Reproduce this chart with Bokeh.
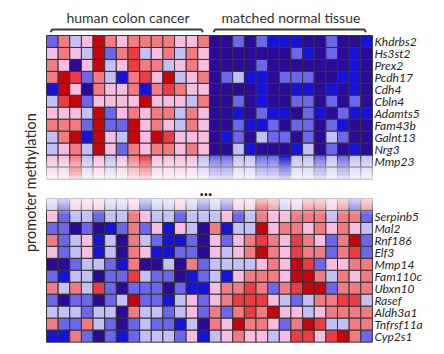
import numpy as np
from bokeh.plotting import figure
from bokeh.models import ColumnDataSource, LinearColorMapper
from bokeh.core.properties import value
from bokeh.embed import file_html
from bokeh.resources import INLINE

# ---------------- data ----------------
groups = ["human colon cancer", "matched normal tissue"]
genes_top = ["Khdrbs2", "Hs3st2", "Prex2", "Pcdh17", "Cdh4", "Cbln4",
             "Adamts5", "Fam43b", "Galnt13", "Nrg3", "Mmp23"]
genes_bottom = ["Serpinb5", "Mal2", "Rnf186", "Elf3", "Mmp14", "Fam110c",
                "Ubxn10", "Rasef", "Aldh3a1", "Tnfrsf11a", "Cyp2s1"]

# methylation level: -4 (lowest, navy) ... 4 (highest, dark red)
top_cancer = [
    [-2, 2, -1, 1, 4, 2, 1, 2, 2, 2, 2, 1, 1, 2],
    [1, 2, 1, -1, 4, -2, 2, 3, -1, 1, 2, -1, 2, 1],
    [2, 1, -4, 1, 4, -1, 1, 3, 2, 2, -1, 1, 2, 1],
    [2, 4, 3, -2, 2, -1, -3, 2, 3, 1, 4, -1, 1, 2],
    [-3, 4, 1, -4, 2, 1, 1, 2, -3, 2, 3, 2, 1, 1],
    [-1, 3, 4, -2, 1, 1, 1, 1, 4, 1, 1, 1, -1, 2],
    [1, 1, 1, -1, 4, -2, 1, 2, 1, 2, 2, -1, 2, 1],
    [2, 2, 2, -2, 4, -2, -2, 4, 1, 2, 1, -1, 2, 1],
    [-1, 2, 4, -3, 4, 1, -1, 4, 1, 4, 3, 1, 1, 1],
    [-1, 1, 2, -1, 4, 1, -2, 2, 1, 2, 2, 1, 2, 1],
    [1, 1, 2, -1, 1, -1, 1, 2, 3, 1, 1, 1, 1, -1],
]
top_normal = [
    [-4, -4, -2, -4, -2, -3, -3, -3, -4, -4, -2, -4, -4, -3],
    [-4, -4, -4, -4, -4, -4, -4, -2, -3, -4, -2, -4, -3, -4],
    [-4, -4, -4, -4, -2, -4, -4, -4, -4, -4, -4, -4, -3, -4],
    [-4, -2, -1, -3, -3, -4, -2, -2, -2, -4, -4, -3, -3, -4],
    [-4, -4, -4, -4, -3, -4, -4, -3, -3, -4, -3, -4, -3, -4],
    [-4, -4, -2, -4, -3, -4, -4, -2, -2, -4, -2, -4, -2, -4],
    [-4, -4, -3, -4, -2, -3, -3, -4, -2, -3, -4, -2, -3, -3],
    [-4, -4, -2, -3, -3, -2, -4, -2, -2, -4, -2, -3, -4, -4],
    [-4, -3, -2, -4, -1, -2, -2, -4, -2, -4, -1, -2, -4, -4],
    [-4, -4, -1, -3, -4, -4, -4, -3, -1, -4, -2, -4, -3, -4],
    [-2, -2, -1, -1, -2, -2, -3, -1, -1, -2, -1, -2, -1, -1],
]
# partially shown rows next to the break
top_cut_cancer = [1, 1, 3, -1, 1, -1, 1, 2, 3, 1, 1, 1, 1, -1]
top_cut_normal = [-2, -2, -1, -1, -2, -2, -3, -1, -1, -2, -1, -2, -1, -1]
bottom_cut_cancer = [-1, -2, 1, 1, 1, -1, -1, 1, -2, -1, -1, 1, -1, -2]
bottom_cut_normal = [-1, -2, 1, 1, 3, 2, -1, 1, 2, 2, 1, 2, -2, 2]

bottom_cancer = [
    [1, -2, -1, -1, -2, -1, -1, 2, 1, -1, -1, -2, -1, -1],
    [-2, -2, -4, -2, -4, -3, -2, 2, -2, 1, -3, 1, -1, -4],
    [2, -2, -1, 1, -3, -1, -4, 2, -1, -2, -3, -3, -2, -4],
    [1, -2, -1, 1, -3, -1, -4, 2, 1, -3, -3, -2, -2, -4],
    [-4, -4, -2, -1, -1, -2, -3, 2, -4, -4, -1, -4, 2, -2],
    [-2, -3, -1, -1, -4, -2, -2, 3, -1, -2, -2, -4, -3, -2],
    [2, -1, 2, -1, 3, -2, -4, -2, -2, -2, -4, -2, -3, -3],
    [-2, -4, -2, -2, -4, -2, -1, 4, -2, -2, -3, -1, 1, -2],
    [-1, -1, -1, -2, -1, -1, -4, 2, -1, -1, -2, -1, 1, -2],
    [2, -2, -2, 2, -1, -2, -4, -2, -1, -2, -2, -3, -1, -4],
    [-3, -3, 2, -2, -4, -2, -3, -2, -1, -1, -1, -2, 1, -3],
]
bottom_normal = [
    [-1, 1, -2, -1, 2, 1, 1, 2, 2, 2, -1, 2, 2, -2],
    [2, -3, -1, -1, 4, 1, 2, 2, 1, 2, 1, 2, 1, -1],
    [1, -2, 1, 2, 3, 2, 1, 3, 2, 1, -2, 2, 4, -2],
    [1, -1, 1, 2, 4, 2, 1, 3, 2, 2, -2, 2, 3, -2],
    [-1, -1, -1, -1, 1, 2, 1, 4, 3, -2, 1, 1, 2, 2],
    [-1, -3, 1, 2, 2, 2, 1, 4, 4, 2, -1, 2, 1, 2],
    [1, 2, 2, 3, 2, -2, 2, 3, 4, 4, -2, 2, 2, 2],
    [1, 2, 3, 3, 3, 1, -1, -2, -1, 2, 2, 3, 3, -1],
    [2, -2, 2, 3, 2, 4, 1, 1, -1, 1, 2, 2, 2, 2],
    [2, 1, 4, 2, 2, 1, -2, 2, 4, 3, -1, -1, 2, 2],
    [-1, 1, 2, 1, 1, -1, 1, 3, 3, 1, 3, 4, 2, -2],
]

palette = ["#2c0a98", "#1512dc", "#6b66ec", "#c2c0f4", "#f4eef6",
           "#f7bde0", "#f27b82", "#ec3b42", "#c6040c"]

# ---------------- layout ----------------
W, H = 444, 354
COL_PX, ROW_PX = 11.64, 11.97
GRID_LEFT_PX, GRID_TOP_PX = 46, 35
n_per_group = len(top_cancer[0])
ncols = 2 * n_per_group

x0 = -0.5 - GRID_LEFT_PX / COL_PX
y1 = 0.5 + GRID_TOP_PX / ROW_PX
x_rng = (x0, x0 + W / COL_PX)
y_rng = (y1 - H / ROW_PX, y1)

def py(pix):  # screen pixel row -> data y
    return y1 - pix / ROW_PX

def px(pix):
    return x0 + pix / COL_PX

BOTTOM_CUT_Y = -13.62   # centre of the partly shown row above the lower block

xs, ys, vs = [], [], []
top_rows = [c + n for c, n in zip(top_cancer, top_normal)] + [top_cut_cancer + top_cut_normal]
for i, row in enumerate(top_rows):
    for j, v in enumerate(row):
        xs.append(j); ys.append(-i); vs.append(v)
bot_rows = [bottom_cut_cancer + bottom_cut_normal] + [c + n for c, n in zip(bottom_cancer, bottom_normal)]
for i, row in enumerate(bot_rows):
    for j, v in enumerate(row):
        xs.append(j); ys.append(BOTTOM_CUT_Y - i); vs.append(v)

src = ColumnDataSource(dict(x=xs, y=ys, v=vs))
mapper = LinearColorMapper(palette=palette, low=-4.5, high=4.5)

p = figure(width=W, height=H, x_range=x_rng, y_range=y_rng,
           x_axis_type=None, y_axis_type=None, min_border=0,
           output_backend="svg", toolbar_location=None)
p.outline_line_color = None
p.background_fill_color = "white"
p.border_fill_color = "white"

p.rect("x", "y", width=1, height=1, source=src,
       fill_color={"field": "v", "transform": mapper},
       line_color="#343434", line_width=1)

# fade-out of the heat map at the break
n_strips = 40
fl, fr, ft, fb, fa = [], [], [], [], []
top_a, top_b = -9.55, -11.35
edges = np.linspace(-9.5, -11.55, n_strips + 1)
for k in range(n_strips):
    mid = 0.5 * (edges[k] + edges[k + 1])
    a = float(np.clip((top_a - mid) / (top_a - top_b), 0, 1))
    fl.append(-0.7); fr.append(ncols - 0.3); ft.append(edges[k]); fb.append(edges[k + 1]); fa.append(a)
bot_a, bot_b = -13.1, -14.5
edges = np.linspace(BOTTOM_CUT_Y + 0.55, -14.6, n_strips + 1)
for k in range(n_strips):
    mid = 0.5 * (edges[k] + edges[k + 1])
    a = float(np.clip((mid - bot_b) / (bot_a - bot_b), 0, 1))
    fl.append(-0.7); fr.append(ncols - 0.3); ft.append(edges[k]); fb.append(edges[k + 1]); fa.append(a)
p.quad(left=fl, right=fr, top=ft, bottom=fb, fill_color="white",
       fill_alpha=fa, line_color=None)

# gene labels
lab_x = ncols - 0.5 + 0.17
p.text(x=[lab_x] * len(genes_top), y=[-i for i in range(len(genes_top))],
       text=genes_top, text_font=value("Lato"), text_font_style="italic",
       text_font_size="12px", text_color="#262626",
       text_align="left", text_baseline="middle")
p.text(x=[lab_x] * len(genes_bottom),
       y=[BOTTOM_CUT_Y - 1 - i for i in range(len(genes_bottom))],
       text=genes_bottom, text_font=value("Lato"), text_font_style="italic",
       text_font_size="12px", text_color="#262626",
       text_align="left", text_baseline="middle")

# group titles and brackets
title_y = py(17)
line_y = py(29)
gx = [(g * n_per_group + (g + 1) * n_per_group - 1) / 2 for g in range(2)]
p.text(x=gx, y=[title_y] * 2, text=groups, text_font=value("Lato"),
       text_font_size="14px", text_color="#333333",
       text_align="center", text_baseline="middle")
bx, by = [], []
for g in range(2):
    s = g * n_per_group - 0.16
    e = (g + 1) * n_per_group - 1 - 0.05
    bx.append([s, s + 0.15, e - 0.15, e])
    by.append([line_y - 0.22, line_y, line_y, line_y - 0.22])
p.multi_line(xs=bx, ys=by, line_color="#3c3c3c", line_width=2)

# axis title
p.text(x=[px(30)], y=[py(182)], text=["promoter methylation"],
       text_font=value("Lato"), text_font_size="14.5px", text_color="#2a2a2a",
       angle=np.pi / 2, text_align="center", text_baseline="middle")

# ellipsis marking the omitted genes
p.text(x=[(ncols - 1) / 2 - 0.3], y=[py(188)], text=["..."],
       text_font=value("Lato"), text_font_style="bold", text_font_size="18px",
       text_color="#222222", text_align="center", text_baseline="alphabetic")

open("out.html", "w").write(file_html(p, INLINE))
